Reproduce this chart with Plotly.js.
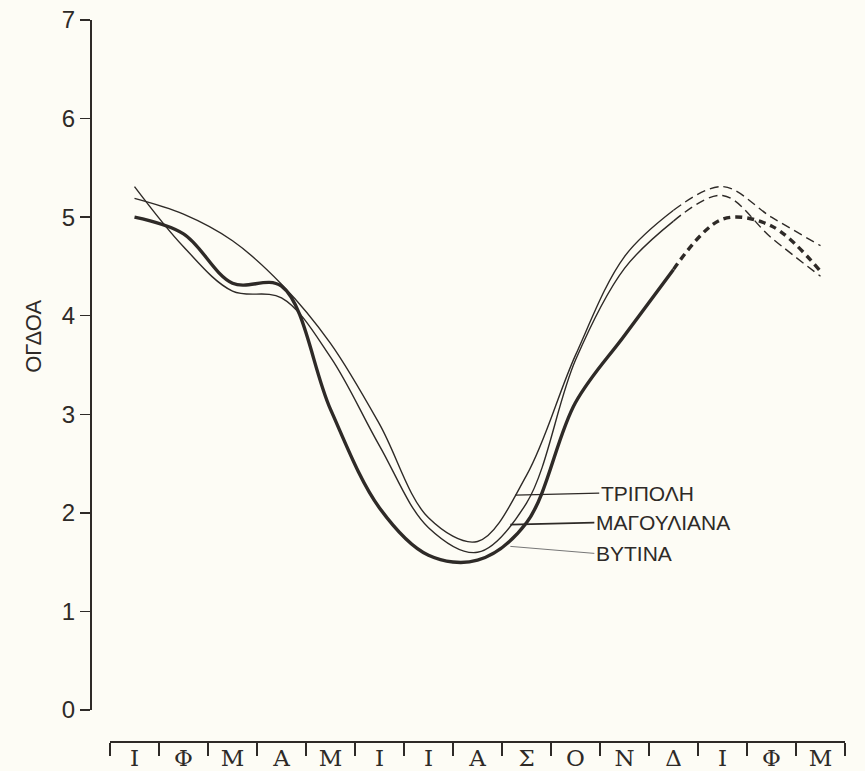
<!DOCTYPE html>
<html>
<head>
<meta charset="utf-8">
<script src="https://cdn.plot.ly/plotly-3.0.1.min.js"></script>
<style>html,body{margin:0;padding:0;background:#fdfcf5;}#chart{width:865px;height:771px;}</style>
</head>
<body>
<div id="chart"></div>
<script>
// Month labels (Jan..Dec, then Jan..Mar repeated)
var months = ["Ι","Φ","Μ","Α","Μ","Ι","Ι","Α","Σ","Ο","Ν","Δ","Ι","Φ","Μ"];
// Cloud cover (octas)
var tripoli     = [5.19, 5.03, 4.76, 4.32, 3.72, 2.90, 1.95, 1.71, 2.38, 3.60, 4.60, 5.07, 5.31, 5.00, 4.71];
var magouliana  = [5.31, 4.70, 4.25, 4.18, 3.58, 2.68, 1.85, 1.60, 2.10, 3.55, 4.48, 4.96, 5.22, 4.79, 4.40];
var vytina      = [5.00, 4.83, 4.33, 4.30, 3.05, 2.05, 1.57, 1.52, 1.90, 3.12, 3.80, 4.47, 4.98, 4.91, 4.45];
var stationNames = ["ΤΡΙΠΟΛΗ","ΜΑΓΟΥΛΙΑΝΑ","ΒΥΤΙΝΑ"];
// label anchor points on the curves (month index, octas)
var labelX = [7.77, 7.67, 7.67];
var labelY = [2.18, 1.88, 1.66];
var yTicks = [0,1,2,3,4,5,6,7];

var idx = months.map(function(_, i){ return i; });
var solidEnd = 11; // Δ: last solid point, afterwards dashed
var series = [
  {v: tripoli, w: 1.4},
  {v: magouliana, w: 1.4},
  {v: vytina, w: 3.4}
];
var ink = "#2e2a27";
var traces = [];
series.forEach(function(s){
  traces.push({x: idx.slice(0, solidEnd+1), y: s.v.slice(0, solidEnd+1), mode: "lines",
    line: {shape: "spline", smoothing: 1, color: ink, width: s.w}, hoverinfo: "skip", showlegend: false});
  traces.push({x: idx.slice(solidEnd), y: s.v.slice(solidEnd), mode: "lines",
    line: {shape: "spline", smoothing: 1, color: ink, width: s.w, dash: s.w > 2 ? "7px,5px" : "9px,5px"},
    hoverinfo: "skip", showlegend: false});
});

var bounds = [];
for (var k = 0; k <= months.length; k++) bounds.push(k - 0.5);

var arrowW = [1.2, 1.8, 1.0];
var arrowC = [ink, ink, "#777"];
var ays = [-2, -2, 7];
var annotations = stationNames.map(function(n, i){
  return {x: labelX[i], y: labelY[i], xref: "x", yref: "y", text: n, showarrow: true,
    arrowhead: 0, arrowwidth: arrowW[i], arrowcolor: arrowC[i], ax: 84, ay: ays[i],
    xanchor: "left", yanchor: "middle", font: {family: "Liberation Sans, Arial, sans-serif", size: 21, color: ink}};
});
annotations.push({xref: "paper", yref: "paper", x: -0.094, y: 0.562, text: "ΟΓΔΟΑ", showarrow: false,
  textangle: -90, font: {family: "Liberation Sans, Arial, sans-serif", size: 22, color: ink}});

var layout = {
  width: 865, height: 771,
  margin: {l: 90, r: 20, t: 20, b: 29},
  paper_bgcolor: "#fdfcf5", plot_bgcolor: "#fdfcf5",
  showlegend: false,
  xaxis: {
    domain: [0.0265, 1], range: [-0.5, 14.5], anchor: "free", position: 0,
    showgrid: false, zeroline: false, showline: true, linecolor: ink, linewidth: 2,
    tickmode: "array", tickvals: idx, ticktext: months, ticks: "", ticklen: 0,
    ticklabelstandoff: -5,
    tickfont: {family: "DejaVu Serif, Liberation Serif, serif", size: 23, color: ink},
    minor: {tickmode: "array", tickvals: bounds, ticks: "outside", ticklen: 13, tickwidth: 1.5, tickcolor: ink, showgrid: false},
    automargin: false, fixedrange: true
  },
  yaxis: {
    domain: [0.0443, 1], range: [0, 7], anchor: "free", position: 0,
    showgrid: false, zeroline: false, showline: true, linecolor: ink, linewidth: 1.8,
    tickmode: "array", tickvals: yTicks, ticks: "outside", ticklen: 10, tickwidth: 1.5, tickcolor: ink,
    tickfont: {family: "Liberation Sans, Arial, sans-serif", size: 24, color: ink},
    automargin: false, fixedrange: true
  },
  annotations: annotations
};
Plotly.newPlot("chart", traces, layout, {displayModeBar: false, staticPlot: true});
</script>
</body>
</html>
